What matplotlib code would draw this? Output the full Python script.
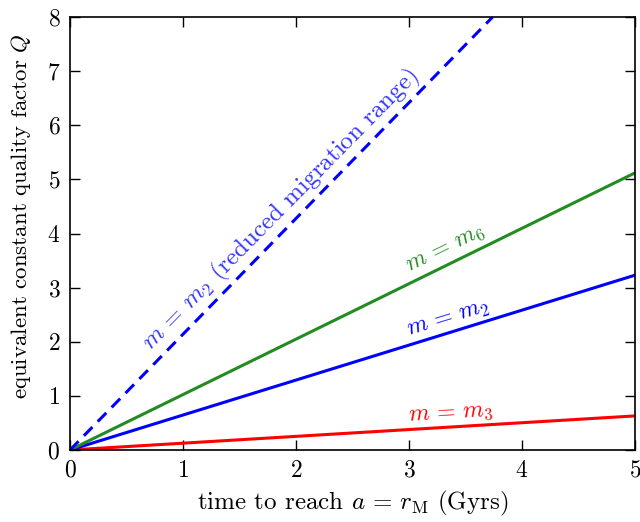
import matplotlib
matplotlib.use("Agg")
import matplotlib.pyplot as plt

plt.rcParams['font.family'] = 'serif'
plt.rcParams['font.serif'] = ['cmr10']
plt.rcParams['mathtext.fontset'] = 'cm'
plt.rcParams['axes.formatter.use_mathtext'] = True

t = [0, 5]
q_m3 = [0, 0.63]
q_m2 = [0, 3.23]
q_m6 = [0, 5.12]
t_dash = [0, 3.74]
q_m2_reduced = [0, 8.0]

fig = plt.figure(figsize=(6.4, 5.22), dpi=100)
ax = fig.add_axes([70/640, 1-450/522, 565/640, 433/522])

ax.plot(t, q_m3, color='red', lw=2.2)
ax.plot(t, q_m2, color='blue', lw=2.2)
ax.plot(t, q_m6, color='#228B22', lw=2.2)
ax.plot(t_dash, q_m2_reduced, color='blue', lw=2.2, dashes=(4, 2.5))

ax.set_xlim(0, 5)
ax.set_ylim(0, 8)
ax.set_xticks(range(0, 6))
ax.set_yticks(range(0, 9))
ax.tick_params(direction='in', top=True, right=True, length=7, width=1, labelsize=17, pad=7)
for s in ax.spines.values():
    s.set_linewidth(1.2)

ax.set_xlabel(r'time to reach $a\,=\,r_{\rm M}$ (Gyrs)', fontsize=18, labelpad=5)
ax.set_ylabel(r'equivalent constant quality factor $Q$', fontsize=16.5)
ax.yaxis.set_label_coords(-0.066, 0.54)

ax.text(0.72, 1.82, r'$m\,=\,m_2$ (reduced migration range)', color='#3535ff', fontsize=18,
        rotation=45.5, rotation_mode='anchor', ha='left', va='baseline')
ax.text(3.0, 3.3, r'$m\,=\,m_6$', color='#228B22', fontsize=17,
        rotation=26, rotation_mode='anchor', ha='left', va='baseline')
ax.text(3.0, 2.1, r'$m\,=\,m_2$', color='blue', fontsize=17,
        rotation=17, rotation_mode='anchor', ha='left', va='baseline')
ax.text(3.0, 0.53, r'$m\,=\,m_3$', color='red', fontsize=17,
        rotation=3.5, rotation_mode='anchor', ha='left', va='baseline')

fig.savefig('out.png', dpi=100)
